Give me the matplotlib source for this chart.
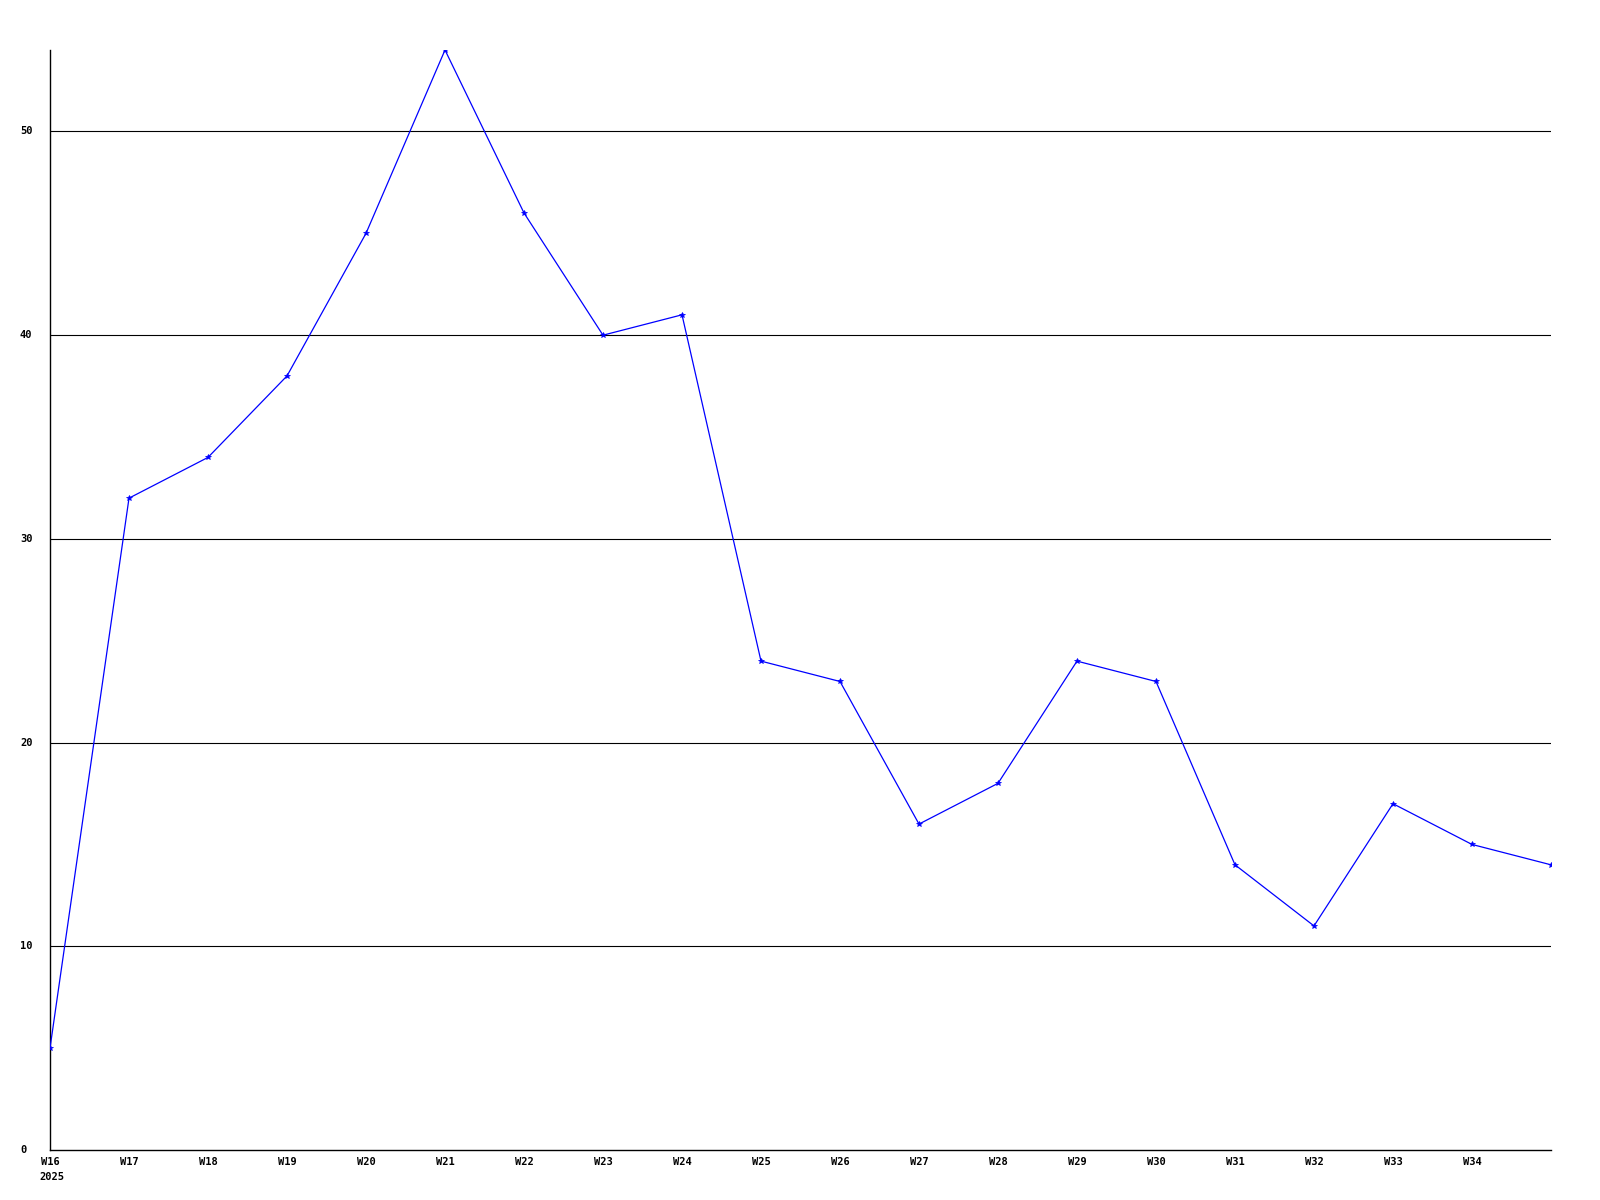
import matplotlib
matplotlib.use('Agg')
import matplotlib.pyplot as plt

# weekly values
weeks = ['W16', 'W17', 'W18', 'W19', 'W20', 'W21', 'W22', 'W23', 'W24', 'W25',
         'W26', 'W27', 'W28', 'W29', 'W30', 'W31', 'W32', 'W33', 'W34', 'W35']
values = [5, 32, 34, 38, 45, 54, 46, 40, 41, 24, 23, 16, 18, 24, 23, 14, 11, 17, 15, 14]
year_label = '2025'
y_ticks = [0, 10, 20, 30, 40, 50]

fig = plt.figure(figsize=(16, 12), dpi=100)
ax = fig.add_axes([50/1600, 1 - 1150/1200, 1501/1600, 1100/1200])

x = list(range(len(weeks)))
ax.plot(x, values, color='#0000ff', linewidth=0.9, marker='*', markersize=4,
        markeredgewidth=0.5, zorder=3)

ax.set_xlim(0, len(weeks) - 1)
ax.set_ylim(0, 54)

for y in y_ticks[1:]:
    ax.axhline(y, color='black', linewidth=0.8, zorder=1)

for s in ['top', 'right']:
    ax.spines[s].set_visible(False)
for s in ['left', 'bottom']:
    ax.spines[s].set_linewidth(1)
    ax.spines[s].set_color('black')

font = dict(family='DejaVu Sans Mono', fontsize=7.5, fontweight='bold')

ax.set_xticks([])
ax.set_yticks([])
# x labels (last week has no label)
for i, w in enumerate(weeks[:-1]):
    ax.text(i, -0.35, w, ha='center', va='top', **font)
ax.text(-0.14, -1.1, year_label, ha='left', va='top', **font)

for y in y_ticks:
    ax.text(-0.38, y, str(y), ha='left', va='center', **font)

fig.savefig('out.png', dpi=100)
